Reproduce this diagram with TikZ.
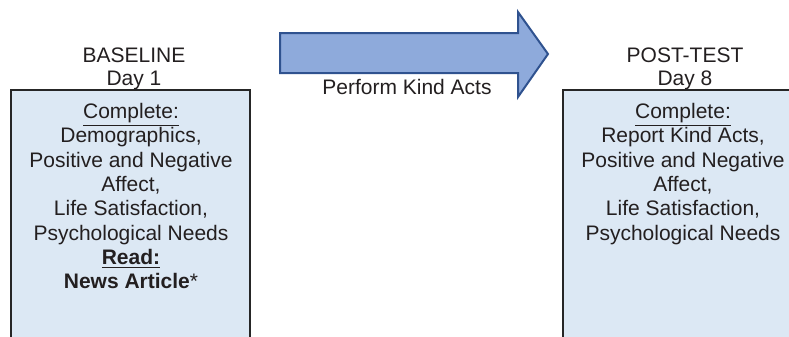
\documentclass[tikz,border=0pt]{standalone}
\usepackage{fontspec}
\setmainfont{Liberation Sans}
\definecolor{boxfill}{HTML}{DCE8F4}
\definecolor{boxline}{HTML}{262626}
\definecolor{arrfill}{HTML}{8EAADB}
\definecolor{arrline}{HTML}{2F528F}
\definecolor{txt}{HTML}{231F20}
\begin{document}
\begin{tikzpicture}[x=0.5pt,y=-0.5pt,
  every node/.style={text=txt, font=\fontsize{10.5}{12.15}\selectfont, inner sep=0pt},
  panel/.style={fill=boxfill, draw=boxline, line width=1.1pt},
  bigarrow/.style={fill=arrfill, draw=arrline, line width=1pt, line join=miter},
  body/.style={align=center, anchor=north}]
\useasboundingbox (0,0) rectangle (789,337);
\begin{scope}
\clip (0,0) rectangle (789,337);
\draw[panel] (11,90) rectangle (250,345);
\draw[panel] (563,90) rectangle (800,345);
\end{scope}
\draw[bigarrow] (280,33) -- (518,33) -- (518,12) -- (548,54) -- (518,97) -- (518,73) -- (280,73) -- cycle;
\node[anchor=base] (perf) at (407,95) {Perform Kind Acts};
\node[anchor=base] (bl) at (134,62) {BASELINE};
\node[anchor=base] (d1) at (134,85) {Day 1};
\node[anchor=base] (pt) at (685,62) {POST-TEST};
\node[anchor=base] (d8) at (685,85) {Day 8};
\node[body] (lefttext) at (131,103) {\underline{Complete:}\\Demographics,\\Positive and Negative\\Affect,\\Life Satisfaction,\\Psychological Needs\\\textbf{\underline{Read:}}\\\textbf{News Article}*};
\node[body] (righttext) at (683,103) {\underline{Complete:}\\Report Kind Acts,\\Positive and Negative\\Affect,\\Life Satisfaction,\\Psychological Needs};
\end{tikzpicture}
\end{document}
